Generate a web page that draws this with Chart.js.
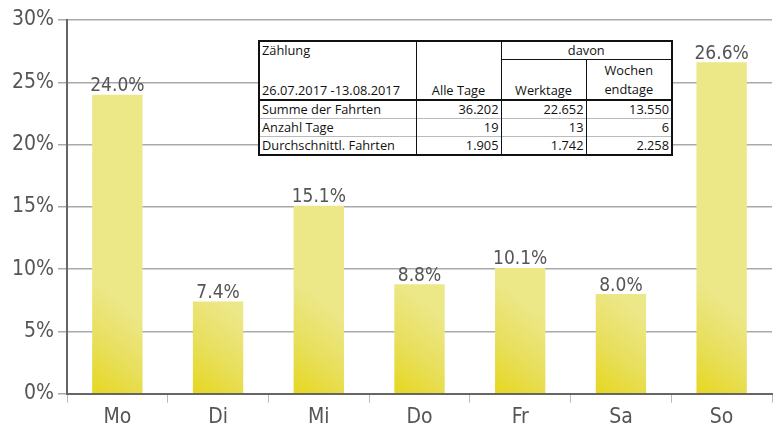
<!DOCTYPE html>
<html><head><meta charset="utf-8">
<script src="https://cdn.jsdelivr.net/npm/chart.js@4/dist/chart.umd.min.js"></script>
<style>
html,body{margin:0;padding:0;background:#fff;}
#wrap{position:relative;width:776px;height:436px;}
canvas{position:absolute;left:0;top:0;}
#tbl{position:absolute;left:258px;top:40px;width:413px;table-layout:fixed;border-collapse:collapse;font-family:"Open Sans","Liberation Sans",sans-serif;font-size:12.8px;color:#111;background:#fff;border:2px solid #111;}
#tbl td{padding:0 2px;line-height:17px;white-space:nowrap;overflow:hidden;}
</style></head><body>
<div id="wrap"><canvas id="c" width="776" height="436"></canvas>
<table id="tbl"><colgroup><col style="width:157px"><col style="width:85px"><col style="width:85px"><col style="width:86px"></colgroup><tbody id="tb"></tbody></table></div>
<script>
const categories = ["Mo","Di","Mi","Do","Fr","Sa","So"];
const shares = [24.0, 7.4, 15.1, 8.8, 10.1, 8.0, 26.6];
const yTicks = [0,5,10,15,20,25,30];
const tableHead1 = ["Zählung","","davon"];
const tableHead2 = ["26.07.2017 -13.08.2017","Alle Tage","Werktage","Wochen\nendtage"];
const rowLabels = ["Summe der Fahrten","Anzahl Tage","Durchschnittl. Fahrten"];
const colAll = ["36.202","19","1.905"];
const colWork = ["22.652","13","1.742"];
const colWeekend = ["13.550","6","2.258"];

// table
const t = document.getElementById('tb');
let h = '<tr>'+
 `<td style="border-right:1px solid #111;">${tableHead1[0]}</td>`+
 `<td style="border-right:1px solid #111;">${tableHead1[1]}</td>`+
 `<td colspan="2" style="text-align:center;border-bottom:1px solid #111;">${tableHead1[2]}</td></tr>`;
const w2 = tableHead2[3].split('\n');
h += '<tr style="border-bottom:2px solid #111;">'+
 `<td style="vertical-align:bottom;height:39px;border-right:1px solid #111;">${tableHead2[0]}</td>`+
 `<td style="vertical-align:bottom;text-align:center;border-right:1px solid #111;">${tableHead2[1]}</td>`+
 `<td style="vertical-align:bottom;text-align:center;border-right:1px solid #111;">${tableHead2[2]}</td>`+
 `<td style="vertical-align:bottom;text-align:center;line-height:19px;">${w2[0]}<br>${w2[1]}</td></tr>`;
for(let i=0;i<rowLabels.length;i++){
 const bb = i<rowLabels.length-1 ? 'border-bottom:1px solid #bbb;' : '';
 h += `<tr style="${bb}"><td style="border-right:1px solid #111;">${rowLabels[i]}</td>`+
  `<td style="text-align:right;border-right:1px solid #111;">${colAll[i]}</td>`+
  `<td style="text-align:right;border-right:1px solid #111;">${colWork[i]}</td>`+
  `<td style="text-align:right;">${colWeekend[i]}</td></tr>`;
}
t.innerHTML = h;

const FONT = "'Liberation Sans Narrow','DejaVu Sans Condensed',sans-serif";

const labelPlugin = {
 id:'vals',
 afterDatasetsDraw(chart){
  const ctx = chart.ctx;
  const meta = chart.getDatasetMeta(0);
  ctx.save();
  ctx.font = "19px "+FONT;
  ctx.fillStyle = "#555";
  ctx.textAlign = "center";
  ctx.textBaseline = "bottom";
  meta.data.forEach((el,i)=>{
   ctx.fillText(shares[i].toFixed(1)+"%", el.x, el.y+1);
  });
  ctx.restore();
 }
};

new Chart(document.getElementById('c'),{
 type:'bar',
 data:{labels:categories,datasets:[{
  data:shares,
  borderWidth:0,
  barPercentage:0.5,
  categoryPercentage:1.0,
  backgroundColor(ctx){
   const chart = ctx.chart;
   const ca = chart.chartArea;
   if(!ca) return '#ece88a';
   const xs = chart.scales.x, ys = chart.scales.y;
   const cx = xs.getPixelForValue(ctx.dataIndex);
   const b = ys.getPixelForValue(0);
   const g = chart.ctx.createLinearGradient(cx-25, b, cx+30, b-70);
   g.addColorStop(0,'#e6d720');
   g.addColorStop(0.5,'#e8df5c');
   g.addColorStop(1,'#ece787');
   return g;
  }
 }]},
 options:{
  responsive:false,animation:false,
  layout:{padding:{top:20,right:4,left:0,bottom:4}},
  plugins:{legend:{display:false},tooltip:{enabled:false}},
  scales:{
   x:{
    grid:{display:true,offset:true,drawOnChartArea:false,drawTicks:true,tickLength:9,color:'#bbb',lineWidth:1},
    border:{color:'#666',width:2},
    ticks:{font:{family:FONT,size:21},color:'#555',padding:2}
   },
   y:{
    min:0,max:30,
    afterFit(s){s.width=67;},
    grid:{color:'#aaa',lineWidth:1.5,tickLength:9},
    border:{color:'#666',width:2},
    ticks:{stepSize:5,font:{family:FONT,size:21},color:'#555',padding:4,
     callback:(v)=> yTicks.includes(v) ? v+'%' : ''}
   }
  }
 },
 plugins:[labelPlugin]
});
</script></body></html>
